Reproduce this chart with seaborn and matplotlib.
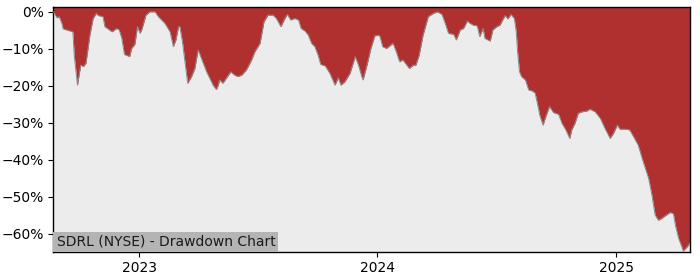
import matplotlib
matplotlib.use("Agg")
import matplotlib.pyplot as plt
import matplotlib.dates as mdates
from matplotlib.ticker import FuncFormatter
import pandas as pd
import seaborn as sns

dates = [
    "2022-08-22", "2022-08-23", "2022-08-25", "2022-08-28", "2022-08-31", "2022-09-04", "2022-09-06",
    "2022-09-21", "2022-09-23", "2022-09-28", "2022-10-03", "2022-10-07", "2022-10-11", "2022-10-17",
    "2022-10-22", "2022-10-27", "2022-10-30", "2022-11-06", "2022-11-09", "2022-11-20", "2022-11-27",
    "2022-12-01", "2022-12-05", "2022-12-09", "2022-12-17", "2022-12-20", "2022-12-25", "2022-12-29",
    "2023-01-02", "2023-01-05", "2023-01-11", "2023-01-17", "2023-01-25", "2023-01-30", "2023-02-09",
    "2023-02-17", "2023-02-22", "2023-02-26", "2023-03-02", "2023-03-04", "2023-03-08", "2023-03-16",
    "2023-03-22", "2023-03-27", "2023-04-01", "2023-04-09", "2023-04-14", "2023-04-24", "2023-04-29",
    "2023-05-02", "2023-05-04", "2023-05-09", "2023-05-14", "2023-05-21", "2023-05-27", "2023-06-01",
    "2023-06-07", "2023-06-14", "2023-06-22", "2023-06-27", "2023-07-05", "2023-07-11", "2023-07-17",
    "2023-07-25", "2023-07-30", "2023-08-06", "2023-08-12", "2023-08-16", "2023-08-21", "2023-08-27",
    "2023-09-02", "2023-09-06", "2023-09-12", "2023-09-17", "2023-09-22", "2023-09-27", "2023-10-02",
    "2023-10-06", "2023-10-13", "2023-10-20", "2023-10-28", "2023-11-02", "2023-11-06", "2023-11-12",
    "2023-11-20", "2023-11-28", "2023-12-03", "2023-12-08", "2023-12-10", "2023-12-16", "2023-12-22",
    "2023-12-28", "2024-01-03", "2024-01-05", "2024-01-09", "2024-01-15", "2024-01-20", "2024-01-25",
    "2024-01-30", "2024-02-04", "2024-02-09", "2024-02-15", "2024-02-19", "2024-02-25", "2024-02-29",
    "2024-03-05", "2024-03-11", "2024-03-19", "2024-03-27", "2024-04-02", "2024-04-09", "2024-04-14",
    "2024-04-19", "2024-04-27", "2024-05-01", "2024-05-07", "2024-05-12", "2024-05-18", "2024-05-22",
    "2024-05-27", "2024-06-02", "2024-06-06", "2024-06-11", "2024-06-14", "2024-06-22", "2024-06-26",
    "2024-07-02", "2024-07-07", "2024-07-11", "2024-07-15", "2024-07-19", "2024-07-24", "2024-07-29",
    "2024-08-01", "2024-08-03", "2024-08-06", "2024-08-09", "2024-08-15", "2024-08-20", "2024-08-26",
    "2024-08-30", "2024-09-04", "2024-09-06", "2024-09-11", "2024-09-16", "2024-09-21", "2024-09-27",
    "2024-10-05", "2024-10-10", "2024-10-16", "2024-10-22", "2024-10-25", "2024-10-30", "2024-11-04",
    "2024-11-10", "2024-11-17", "2024-11-22", "2024-11-30", "2024-12-08", "2024-12-15", "2024-12-23",
    "2024-12-28", "2025-01-03", "2025-01-07", "2025-01-15", "2025-01-22", "2025-01-28", "2025-02-04",
    "2025-02-10", "2025-02-15", "2025-02-20", "2025-02-25", "2025-03-02", "2025-03-07", "2025-03-12",
    "2025-03-19", "2025-03-25", "2025-03-30", "2025-04-02", "2025-04-07", "2025-04-12", "2025-04-14",
    "2025-04-20", "2025-04-24",
]

drawdown_pct = [
    0.0, -0.2, -0.9, -1.6, -1.3, -3.1, -4.6,
    -5.4, -11.7, -19.8, -14.4, -14.8, -13.9, -6.3,
    -1.8, -0.4, -1.0, -1.3, -4.0, -5.4, -4.5,
    -4.9, -7.2, -11.5, -12.1, -9.9, -8.8, -4.0,
    -5.8, -4.6, -0.9, 0.0, 0.0, -1.3, -3.1,
    -5.4, -9.4, -7.6, -4.0, -4.0, -8.1, -19.3,
    -17.5, -15.3, -10.3, -13.9, -16.2, -19.8, -21.0,
    -19.8, -18.4, -19.3, -18.0, -16.2, -17.1, -17.5,
    -17.1, -15.7, -13.0, -10.8, -8.5, -2.7, -0.9,
    -0.9, -1.8, -4.0, -1.8, -0.7, -2.2, -1.8,
    -2.2, -4.5, -5.2, -6.3, -8.5, -9.4, -11.7,
    -14.2, -14.6, -16.6, -19.8, -17.8, -19.8, -18.9,
    -16.6, -12.1, -14.4, -17.5, -18.4, -14.4, -9.9,
    -6.5, -6.3, -6.7, -9.4, -9.9, -9.2, -8.5,
    -10.8, -13.5, -13.0, -14.4, -15.3, -14.4, -14.4,
    -11.7, -6.3, -1.3, -0.4, 0.0, -0.7, -3.1,
    -5.8, -6.1, -7.6, -4.9, -4.5, -2.5, -3.1,
    -3.6, -3.8, -6.7, -4.5, -7.2, -7.9, -4.9,
    -4.0, -3.6, -2.2, -1.0, -1.9, -0.7, -1.8,
    -5.4, -10.8, -16.2, -17.5, -18.4, -21.1, -21.4,
    -22.0, -26.1, -27.9, -30.6, -27.9, -25.6, -27.2,
    -27.7, -30.1, -31.9, -34.2, -31.9, -30.1, -27.4,
    -27.0, -26.8, -26.3, -27.0, -28.8, -31.5, -34.2,
    -32.8, -30.6, -31.7, -31.7, -31.9, -33.8, -36.0,
    -39.6, -42.3, -45.0, -49.5, -54.9, -56.3, -55.8,
    -54.9, -54.2, -54.5, -57.6, -61.2, -63.5, -64.6,
    -63.5, -62.5,
]

y_ticks = [0, -10, -20, -30, -40, -50, -60]
title_text = "SDRL (NYSE) - Drawdown Chart"
y_bottom, y_top = -64.8, 1.3

df = pd.DataFrame({"date": pd.to_datetime(dates), "dd": drawdown_pct})

sns.set_style("ticks")
plt.rcParams["font.family"] = ["DejaVu Sans"]

fig = plt.figure(figsize=(7, 2.8), dpi=100)
ax = fig.add_axes([0.0762, 0.101, 0.9091, 0.874])
ax.set_facecolor("#ececec")

ax.fill_between(df["date"], df["dd"], y_top, color="#b03030", linewidth=0, zorder=2)
sns.lineplot(data=df, x="date", y="dd", ax=ax, color="#8a8a8a", linewidth=0.7, zorder=3)

ax.set_xlim(df["date"].iloc[0], df["date"].iloc[-1])
ax.set_ylim(y_bottom, y_top)
ax.set_yticks(y_ticks)
ax.yaxis.set_major_formatter(FuncFormatter(lambda v, p: f"{v:.0f}%".replace("-", "\u2212")))
ax.xaxis.set_major_locator(mdates.YearLocator())
ax.xaxis.set_major_formatter(mdates.DateFormatter("%Y"))
ax.set_xlabel("")
ax.set_ylabel("")
ax.tick_params(labelsize=10, colors="black", length=3.5)
for s in ax.spines.values():
    s.set_visible(True)
    s.set_color("black")
    s.set_linewidth(1.0)

ax.text(0.005, 0.012, title_text, transform=ax.transAxes, ha="left", va="bottom",
        fontsize=10, color="#1a1a1a", zorder=5,
        bbox=dict(facecolor="#b4b4b4", edgecolor="none", pad=2.2))

fig.savefig("out.png", dpi=100, facecolor="white")
